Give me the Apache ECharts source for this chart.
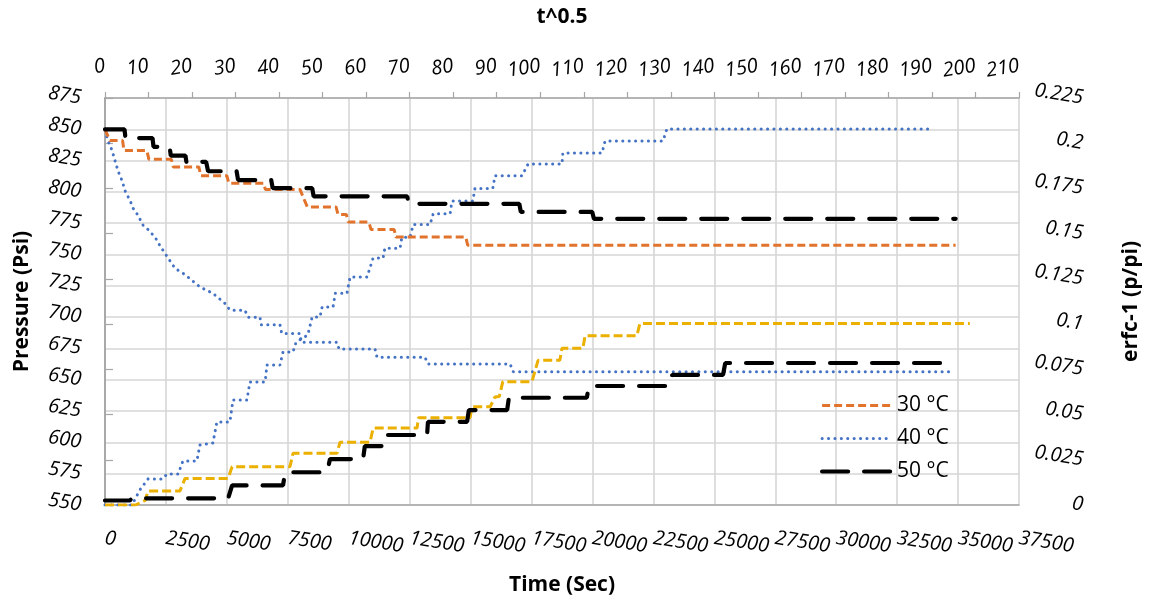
<!DOCTYPE html>
<html>
<head>
<meta charset="utf-8">
<script src="https://cdn.jsdelivr.net/npm/echarts@6/dist/echarts.min.js"></script>
<style>
  html, body { margin: 0; padding: 0; background: #ffffff; }
  #chart { width: 1149px; height: 605px; }
</style>
</head>
<body>
<div id="chart"></div>
<script>
// Legend names
const seriesNames = ['30 °C', '40 °C', '50 °C'];

// Axis ranges [min, max, interval]
const timeAxis = [0, 37500, 2500];      // Time (Sec), bottom
const rootTimeAxis = [0, 210, 10];      // t^0.5, top
const pressureAxis = [550, 875, 25];    // Pressure (Psi), left
const erfcAxis = [0, 0.225, 0.025];     // erfc-1 (p/pi), right

// Pressure vs time [sec, psi]
const pressure30 = [
  [0, 850], [200, 841], [720, 841], [780, 833], [1720, 833], [1800, 826],
  [2720, 826], [2800, 820], [3850, 820], [3930, 813], [5000, 813], [5080, 807],
  [6500, 807], [6580, 802], [8000, 802], [8150, 795], [8300, 788], [9480, 788],
  [9560, 782], [9900, 782], [9980, 776], [10830, 776], [10910, 770], [11860, 770],
  [11940, 764], [14800, 764], [14880, 757.5], [34900, 757.5]
];
const pressure40 = [
  [0, 849], [120, 841], [290, 833], [410, 825], [530, 817], [700, 809],
  [820, 801], [1030, 793], [1150, 787], [1350, 781.5], [1560, 773.5], [1850, 768.5],
  [2130, 761.6], [2260, 756.8], [2460, 751], [2870, 739], [3280, 734], [3900, 724],
  [4430, 719], [4920, 711], [5130, 705.6], [5740, 705.6], [5870, 700], [6360, 700],
  [6400, 694], [7180, 694], [7250, 687], [8000, 687], [8050, 680], [9520, 680],
  [9600, 674.5], [11080, 674.5], [11160, 668], [13130, 668], [13250, 662.6],
  [16620, 662.6], [16750, 656.4], [34800, 656.4]
];
const pressure50 = [
  [0, 850], [800, 850], [840, 843], [1950, 843], [1990, 836], [2650, 836],
  [2700, 829], [3300, 829], [3340, 824], [4150, 824], [4230, 816.5], [5400, 816.5],
  [5460, 809.5], [6820, 809.5], [6880, 803], [8500, 803], [8560, 796.5], [12400, 796.5],
  [12460, 790.5], [17000, 790.5], [17060, 784], [19990, 784], [20060, 778.5], [34900, 778.5]
];

// erfc-1 (p/pi) vs t^0.5
const erfc30 = [
  [0, 0], [7.0, 0], [9.2, 0.0025], [9.9, 0.0077], [17.2, 0.0077], [18.4, 0.0147],
  [28.3, 0.0147], [29.2, 0.0212], [42.5, 0.0212], [43.2, 0.0286], [53.3, 0.0286],
  [54.0, 0.0347], [60.9, 0.0347], [61.6, 0.0425], [71.7, 0.0425], [72.0, 0.0483],
  [83.9, 0.0483], [84.3, 0.0543], [88.5, 0.0543], [89.6, 0.0597], [90.6, 0.0600],
  [91.4, 0.0682], [98.1, 0.0682], [99.5, 0.080], [104.5, 0.080], [105.0, 0.0866],
  [109.8, 0.0866], [110.3, 0.0936], [122.2, 0.0936], [122.9, 0.1004], [198.7, 0.1004]
];
const erfc40 = [
  [0, 0], [6.2, 0], [8.0, 0.0083], [9.9, 0.0144], [13.3, 0.0144], [14.2, 0.0171],
  [16.8, 0.0171], [17.9, 0.0243], [21.1, 0.0243], [21.8, 0.0332], [24.8, 0.0343],
  [25.7, 0.0459], [28.7, 0.0459], [29.4, 0.058], [32.6, 0.058], [33.3, 0.068],
  [36.8, 0.068], [37.2, 0.0774], [40.2, 0.0774], [40.9, 0.0846], [43.2, 0.0846],
  [43.9, 0.090], [46.6, 0.094], [47.6, 0.104], [49.4, 0.104], [49.9, 0.1095],
  [52.4, 0.1095], [52.9, 0.117], [55.6, 0.117], [56.3, 0.126], [60.2, 0.126],
  [61.6, 0.1365], [63.9, 0.1365], [64.3, 0.142], [67.8, 0.142], [68.2, 0.148],
  [70.1, 0.148], [70.8, 0.155], [74.7, 0.155], [75.4, 0.161], [79.3, 0.161],
  [79.7, 0.168], [84.5, 0.168], [85.0, 0.175], [89.1, 0.175], [89.6, 0.182],
  [95.8, 0.182], [97.2, 0.1885], [105.0, 0.1885], [105.2, 0.1946], [114.2, 0.1946],
  [114.9, 0.2012], [128.2, 0.2012], [129.1, 0.2079], [189.6, 0.2079]
];
const erfc50 = [
  [0, 0.0025], [5.7, 0.0025], [6.2, 0.0037], [28.3, 0.0037], [29.2, 0.0108],
  [40.9, 0.0108], [41.4, 0.0181], [51.0, 0.0181], [51.7, 0.0254], [59.3, 0.0254],
  [59.7, 0.0326], [64.6, 0.0326], [65.0, 0.0387], [74.0, 0.0387], [74.2, 0.046],
  [83.2, 0.046], [83.6, 0.0525], [92.4, 0.0525], [92.8, 0.0593], [110.7, 0.0593],
  [111.2, 0.0658], [129.8, 0.0658], [130.3, 0.0719], [142.0, 0.0719], [142.5, 0.0785],
  [193.0, 0.0785]
];

const FONT = '"Open Sans", "DejaVu Sans", sans-serif';
const gridColor = '#d6d6d6';
const axisColor = '#a6a6a6';

const plainNumber = function (v) { return String(parseFloat(Number(v).toFixed(3))); };

const tickLabel = {
  color: '#000',
  fontFamily: FONT,
  fontSize: 20,
  fontStyle: 'italic',
  rotate: -9,
  formatter: plainNumber
};
const axisTitle = {
  color: '#000',
  fontFamily: FONT,
  fontSize: 21,
  fontWeight: 'bold'
};

const orangeStyle = { color: '#E2732C', width: 3, type: [8, 4] };
const yellowStyle = { color: '#EBB000', width: 3, type: [9, 4] };
const blueStyle = { color: '#4472C4', width: 3, type: [0.1, 6.3], cap: 'round' };
const blackStyle = { color: '#000000', width: 4.2, type: [26, 16], cap: 'round' };

function lineSeries(name, data, xi, yi, style, z) {
  return {
    name: name,
    type: 'line',
    xAxisIndex: xi,
    yAxisIndex: yi,
    data: data,
    showSymbol: false,
    symbol: 'none',
    smooth: false,
    animation: false,
    z: z,
    lineStyle: style,
    itemStyle: { color: style.color },
    emphasis: { disabled: true }
  };
}

const chart = echarts.init(document.getElementById('chart'), null, { renderer: 'canvas' });

chart.setOption({
  backgroundColor: '#ffffff',
  animation: false,
  grid: {
    left: 105, right: 130, top: 98, bottom: 100,
    containLabel: false,
    outerBoundsMode: 'none'
  },
  legend: {
    orient: 'vertical',
    left: 815,
    top: 390,
    itemWidth: 68,
    itemHeight: 14,
    itemGap: 12,
    itemStyle: { opacity: 0 },
    textStyle: { color: '#000', fontFamily: FONT, fontSize: 21, padding: [0, 0, 0, 2] },
    data: [
      { name: seriesNames[0], lineStyle: { width: 3 } },
      { name: seriesNames[1], lineStyle: { width: 3 } },
      { name: seriesNames[2], lineStyle: { width: 4.2 } }
    ]
  },
  xAxis: [
    {
      type: 'value',
      position: 'bottom',
      min: timeAxis[0], max: timeAxis[1], interval: timeAxis[2],
      name: 'Time (Sec)',
      nameLocation: 'middle',
      nameGap: 70,
      nameTextStyle: axisTitle,
      axisLine: { show: true, lineStyle: { color: axisColor, width: 1.5 } },
      axisTick: { show: false },
      axisLabel: Object.assign({}, tickLabel, { margin: 33, align: 'left' }),
      splitLine: { show: true, lineStyle: { color: gridColor, width: 1.6 } }
    },
    {
      type: 'value',
      position: 'top',
      min: rootTimeAxis[0], max: rootTimeAxis[1], interval: rootTimeAxis[2],
      name: 't^0.5',
      nameLocation: 'middle',
      nameGap: 70,
      nameTextStyle: axisTitle,
      axisLine: { show: true, lineStyle: { color: axisColor, width: 1.5 } },
      axisTick: { show: true, length: 6, lineStyle: { color: axisColor, width: 1.2 } },
      axisLabel: Object.assign({}, tickLabel, { margin: 32, align: 'right' }),
      splitLine: { show: false }
    }
  ],
  yAxis: [
    {
      type: 'value',
      position: 'left',
      min: pressureAxis[0], max: pressureAxis[1], interval: pressureAxis[2],
      name: 'Pressure (Psi)',
      nameLocation: 'middle',
      nameGap: 72,
      nameTextStyle: axisTitle,
      axisLine: { show: true, lineStyle: { color: axisColor, width: 1.5 } },
      axisTick: { show: false },
      axisLabel: Object.assign({}, tickLabel, { margin: 24, align: 'right' }),
      splitLine: { show: true, lineStyle: { color: gridColor, width: 1.6 } }
    },
    {
      type: 'value',
      position: 'right',
      min: erfcAxis[0], max: erfcAxis[1], interval: erfcAxis[2],
      name: 'erfc-1 (p/pi)',
      nameLocation: 'middle',
      nameGap: 102,
      nameTextStyle: axisTitle,
      axisLine: { show: true, lineStyle: { color: axisColor, width: 1.5 } },
      axisTick: { show: true, length: 8, lineStyle: { color: axisColor, width: 1.2 } },
      axisLabel: Object.assign({}, tickLabel, { margin: 64, align: 'right' }),
      splitLine: { show: false }
    }
  ],
  series: [
    lineSeries(seriesNames[0], pressure30, 0, 0, orangeStyle, 3),
    lineSeries(seriesNames[1], pressure40, 0, 0, blueStyle, 2),
    lineSeries(seriesNames[2], pressure50, 0, 0, blackStyle, 4),
    lineSeries('30 °C erfc-1', erfc30, 1, 1, yellowStyle, 3),
    lineSeries('40 °C erfc-1', erfc40, 1, 1, blueStyle, 2),
    lineSeries('50 °C erfc-1', erfc50, 1, 1, blackStyle, 4)
  ]
});
</script>
</body>
</html>
